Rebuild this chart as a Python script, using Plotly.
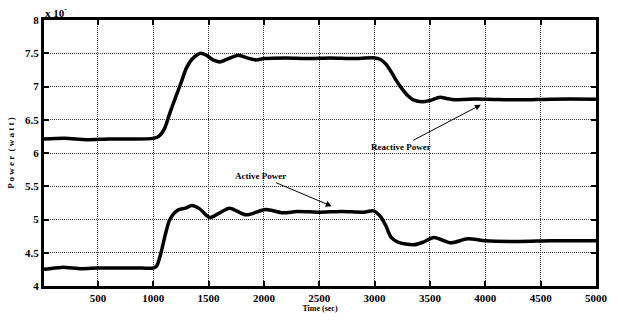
import plotly.graph_objects as go

# Reactive power
t_r = [13, 200, 400, 600, 800, 1000, 1050, 1100, 1150, 1200, 1250, 1300, 1350, 1400, 1430, 1480, 1540, 1600, 1680, 1770, 1850, 1930, 2000, 2200, 2400, 2600, 2800, 3000, 3050, 3100, 3150, 3200, 3250, 3300, 3350, 3430, 3500, 3590, 3650, 3720, 3850, 4000, 4300, 4600, 5000]
v_r = [6.21, 6.22, 6.20, 6.21, 6.21, 6.22, 6.25, 6.36, 6.60, 6.83, 7.05, 7.28, 7.41, 7.48, 7.50, 7.47, 7.40, 7.37, 7.42, 7.47, 7.43, 7.40, 7.42, 7.43, 7.42, 7.43, 7.42, 7.43, 7.41, 7.34, 7.22, 7.08, 6.96, 6.86, 6.80, 6.77, 6.79, 6.84, 6.82, 6.80, 6.81, 6.81, 6.80, 6.81, 6.81]

# Active power
t_a = [13, 170, 350, 500, 700, 900, 1000, 1030, 1070, 1110, 1150, 1220, 1290, 1350, 1420, 1510, 1600, 1690, 1840, 2015, 2170, 2300, 2500, 2700, 2900, 2990, 3050, 3100, 3150, 3210, 3350, 3440, 3535, 3690, 3840, 4000, 4300, 4600, 5000]
v_a = [4.25, 4.28, 4.26, 4.27, 4.27, 4.27, 4.27, 4.30, 4.50, 4.78, 5.00, 5.14, 5.17, 5.21, 5.16, 5.03, 5.10, 5.17, 5.07, 5.15, 5.10, 5.12, 5.11, 5.12, 5.11, 5.13, 5.05, 4.91, 4.73, 4.66, 4.62, 4.66, 4.73, 4.65, 4.71, 4.68, 4.67, 4.68, 4.68]

x_ticks = [500, 1000, 1500, 2000, 2500, 3000, 3500, 4000, 4500, 5000]
y_ticks = [4, 4.5, 5, 5.5, 6, 6.5, 7, 7.5, 8]
y_tick_text = ["4", "4.5", "5", "5.5", "6", "6.5", "7", "7.5", "8"]

FONT = "Liberation Serif"

fig = go.Figure()
fig.add_trace(go.Scatter(x=t_r, y=v_r, mode="lines", line=dict(color="black", width=3.5, shape="spline", smoothing=0.8), name="Reactive Power"))
fig.add_trace(go.Scatter(x=t_a, y=v_a, mode="lines", line=dict(color="black", width=3.5, shape="spline", smoothing=0.8), name="Active Power"))

axis_common = dict(
    showline=True, linecolor="black", linewidth=3, mirror="ticks",
    ticks="inside", ticklen=5, tickwidth=2, tickcolor="black",
    showgrid=True, gridcolor="#333", griddash="1px,1px", gridwidth=1,
    zeroline=False,
    tickfont=dict(family=FONT, size=11, color="black", weight="bold"),
)

fig.update_xaxes(range=[13, 5000], tickvals=x_ticks, **axis_common,
                 title=dict(text="<b>Time (sec)</b>", font=dict(family=FONT, size=8, color="black"), standoff=2))
fig.update_yaxes(range=[4, 8], tickvals=y_ticks, ticktext=y_tick_text, **axis_common,
                 title=dict(text="<b>P o w e r  ( w a t t )</b>", font=dict(family=FONT, size=9, color="black"), standoff=9))

fig.add_annotation(x=2612, y=5.20, ax=-71, ay=-30, text="<b>Active Power</b>",
                   showarrow=True, arrowhead=2, arrowsize=1.2, arrowwidth=1, arrowcolor="black",
                   font=dict(family=FONT, size=9, color="black"))
fig.add_annotation(x=3960, y=6.725, ax=-80, ay=42, text="<b>Reactive Power</b>",
                   showarrow=True, arrowhead=2, arrowsize=1.2, arrowwidth=1, arrowcolor="black",
                   font=dict(family=FONT, size=9, color="black"))
fig.add_annotation(xref="paper", yref="paper", x=0, y=1, xanchor="left", yanchor="bottom",
                   text="<b>x 10<sup>-</sup></b>", showarrow=False, yshift=-1, xshift=-1,
                   font=dict(family=FONT, size=11, color="black"))

fig.update_layout(
    width=618, height=322,
    margin=dict(l=42, r=10, t=20, b=29),
    paper_bgcolor="white", plot_bgcolor="white",
    showlegend=False,
)

fig.write_html("out.html")
